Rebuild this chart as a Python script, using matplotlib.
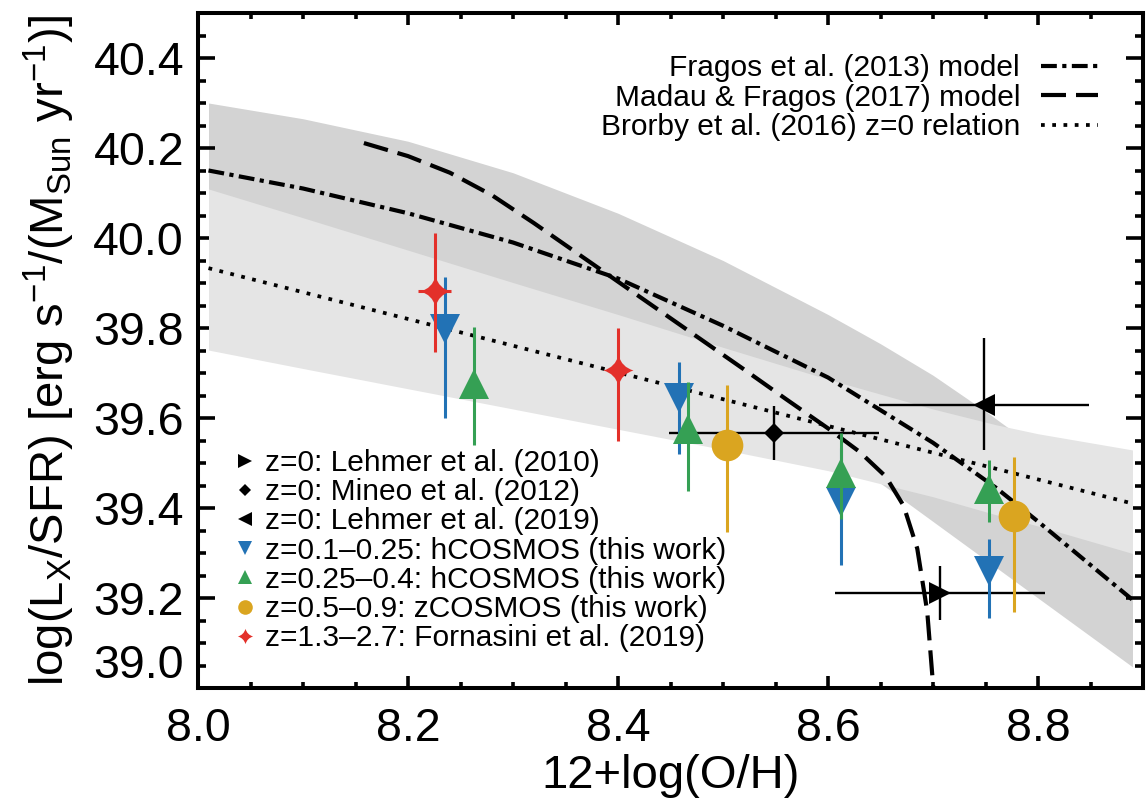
import numpy as np
import matplotlib.pyplot as plt
from matplotlib.path import Path
from matplotlib.lines import Line2D

plt.rcParams['font.family'] = ['Liberation Sans', 'DejaVu Sans']
plt.rcParams['mathtext.fontset'] = 'custom'
plt.rcParams['mathtext.rm'] = 'Liberation Sans'
plt.rcParams['mathtext.it'] = 'Liberation Sans:italic'
plt.rcParams['mathtext.bf'] = 'Liberation Sans:bold'

# ---- model curves ----
fragos_x = [8.01, 8.1, 8.2, 8.3, 8.4, 8.5, 8.6, 8.7, 8.76, 8.8, 8.89]
fragos_y = [40.15, 40.11, 40.055, 39.99, 39.91, 39.805, 39.69, 39.545, 39.445, 39.37, 39.196]

madau_x = [8.158, 8.20, 8.24, 8.28, 8.32, 8.36, 8.40, 8.44, 8.48, 8.52, 8.56, 8.60,
           8.63, 8.655, 8.672, 8.685, 8.6945, 8.702]
madau_y = [40.211, 40.182, 40.145, 40.095, 40.033, 39.968, 39.903, 39.838, 39.773, 39.708,
           39.642, 39.577, 39.525, 39.47, 39.405, 39.31, 39.17, 38.95]

brorby_x = [8.01, 8.89]
brorby_y = [39.933, 39.41]

# shaded uncertainty regions
dark_x = [8.01, 8.1, 8.2, 8.3, 8.4, 8.5, 8.6, 8.65, 8.7, 8.75, 8.8, 8.89]
dark_hi = [40.30, 40.265, 40.215, 40.145, 40.055, 39.95, 39.83, 39.765, 39.695, 39.615, 39.53, 39.36]
dark_lo = [40.00, 39.965, 39.91, 39.84, 39.75, 39.64, 39.53, 39.455, 39.37, 39.285, 39.20, 39.047]

light_x = [8.01, 8.1, 8.2, 8.3, 8.4, 8.5, 8.6, 8.7, 8.76, 8.8, 8.89]
light_hi = [40.109, 40.045, 39.973, 39.901, 39.83, 39.757, 39.686, 39.62, 39.585, 39.565, 39.529]
light_lo = [39.751, 39.71, 39.665, 39.62, 39.575, 39.53, 39.483, 39.425, 39.385, 39.36, 39.299]

# ---- measurements ----
leh10_x, leh10_xerr, leh10_y, leh10_yerr = [8.707], [0.1], [39.212], [0.06]
mineo_x, mineo_xerr, mineo_y, mineo_yerr = [8.549], [0.1], [39.567], [0.06]
leh19_x, leh19_xerr, leh19_y = [8.749], [0.1], [39.628]
leh19_ylo, leh19_yhi = [0.099], [0.149]

hc1_x = [8.235, 8.458, 8.612, 8.753]
hc1_y = [39.798, 39.644, 39.413, 39.261]
hc1_lo = [0.198, 0.123, 0.139, 0.105]
hc1_hi = [0.116, 0.081, 0.12, 0.071]

hc2_x = [8.263, 8.467, 8.612, 8.753]
hc2_y = [39.676, 39.576, 39.478, 39.442]
hc2_lo = [0.135, 0.139, 0.103, 0.072]
hc2_hi = [0.127, 0.104, 0.088, 0.065]

zc_x = [8.504, 8.777]
zc_y = [39.539, 39.383]
zc_lo = [0.192, 0.214]
zc_hi = [0.134, 0.130]

forn_x = [8.2255, 8.40]
forn_xerr = [0.0155, 0.0]
forn_y = [39.882, 39.707]
forn_lo = [0.135, 0.158]
forn_hi = [0.129, 0.094]

c_blue = '#2272b5'
c_green = '#35a054'
c_gold = '#daa520'
c_red = '#e3302a'

# four pointed star marker
k = 0.22
star = Path([(0, 1), (k, k), (1, 0), (k, -k), (0, -1), (-k, -k), (-1, 0), (-k, k), (0, 1), (0, 1)],
            [Path.MOVETO, Path.CURVE3, Path.CURVE3, Path.CURVE3, Path.CURVE3,
             Path.CURVE3, Path.CURVE3, Path.CURVE3, Path.CURVE3, Path.CLOSEPOLY])

fig = plt.figure(figsize=(11.46, 8.10), dpi=100)
ax = fig.add_axes([198 / 1146, 1 - 688 / 810, 945 / 1146, 675 / 810])

ax.fill_between(dark_x, dark_lo, dark_hi, color='#d3d3d3', lw=0, zorder=1)
ax.fill_between(light_x, light_lo, light_hi, color='#e5e5e5', lw=0, zorder=2)

l1, = ax.plot(fragos_x, fragos_y, color='k', lw=3, ls=(0, (3.8, 1.3, 1.0, 1.3)), zorder=3,
              label='Fragos et al. (2013) model')
l2, = ax.plot(madau_x, madau_y, color='k', lw=3, ls=(0, (6.0, 2.4)), zorder=3,
              label='Madau & Fragos (2017) model')
l3, = ax.plot(brorby_x, brorby_y, color='k', lw=2.7, ls=(0, (1, 2)), zorder=3,
              label='Brorby et al. (2016) z=0 relation')

# black z=0 points
ax.errorbar(leh10_x, leh10_y, xerr=leh10_xerr, yerr=leh10_yerr, fmt='none', ecolor='k', elinewidth=1.7, zorder=4)
ax.plot(leh10_x, leh10_y, ls='none', marker='>', ms=15.6, color='k', mew=0, zorder=5)
ax.errorbar(mineo_x, mineo_y, xerr=mineo_xerr, yerr=mineo_yerr, fmt='none', ecolor='k', elinewidth=1.7, zorder=4)
ax.plot(mineo_x, mineo_y, ls='none', marker='D', ms=10.2, color='k', mew=0, zorder=5)
ax.errorbar(leh19_x, leh19_y, xerr=leh19_xerr, yerr=[leh19_ylo, leh19_yhi], fmt='none', ecolor='k',
            elinewidth=1.7, zorder=4)
ax.plot(leh19_x, leh19_y, ls='none', marker='<', ms=15.6, color='k', mew=0, zorder=5)

# this work + Fornasini
ax.errorbar(hc1_x, hc1_y, yerr=[hc1_lo, hc1_hi], fmt='none', ecolor=c_blue, elinewidth=2.2, zorder=6)
ax.plot(hc1_x, hc1_y, ls='none', marker='v', ms=22.3, color=c_blue, mew=0, zorder=6.1)
ax.errorbar(hc2_x, hc2_y, yerr=[hc2_lo, hc2_hi], fmt='none', ecolor=c_green, elinewidth=2.2, zorder=7)
ax.plot(hc2_x, hc2_y, ls='none', marker='^', ms=22.3, color=c_green, mew=0, zorder=6.9)
ax.errorbar(zc_x, zc_y, yerr=[zc_lo, zc_hi], fmt='none', ecolor=c_gold, elinewidth=2.2, zorder=8)
ax.plot(zc_x, zc_y, ls='none', marker='o', ms=22.8, color=c_gold, mew=0, zorder=8.1)
ax.errorbar(forn_x, forn_y, xerr=forn_xerr, yerr=[forn_lo, forn_hi], fmt='none', ecolor=c_red,
            elinewidth=2.2, zorder=9)
ax.plot(forn_x, forn_y, ls='none', marker=star, ms=21.6, color=c_red, mew=0, zorder=9.1)

ax.set_xlim(8.0, 8.9)
ax.set_ylim(39.0, 40.5)
ax.set_xticks([8.0, 8.2, 8.4, 8.6, 8.8])
ax.set_xticks(np.arange(8.0, 8.9, 0.05), minor=True)
ax.set_yticks([39.0, 39.2, 39.4, 39.6, 39.8, 40.0, 40.2, 40.4])
ax.set_yticks(np.arange(39.0, 40.5, 0.05), minor=True)
ax.set_xticklabels(['8.0', '8.2', '8.4', '8.6', '8.8'])
ax.set_yticklabels(['39.0', '39.2', '39.4', '39.6', '39.8', '40.0', '40.2', '40.4'])
ax.get_yticklabels()[0].set_va('bottom')

for s in ax.spines.values():
    s.set_linewidth(2.9)
ax.tick_params(which='both', direction='in', top=True, right=True, width=2.6, labelsize=33.5)
ax.tick_params(axis='x', which='major', length=8.6, pad=14)
ax.tick_params(axis='x', which='minor', length=4.3)
ax.tick_params(axis='y', which='major', length=12.2, pad=10)
ax.tick_params(axis='y', which='minor', length=6.1)

ax.set_xlabel('12+log(O/H)', fontsize=34, labelpad=2)
ax.set_ylabel(r'log(L$_{\rm X}$/SFR) [erg s$^{-1}$/(M$_{\rm Sun}$ yr$^{-1}$)]', fontsize=34, labelpad=12)

leg1 = ax.legend(handles=[l1, l2, l3], loc='upper right', bbox_to_anchor=(0.952, 0.939),
                 markerfirst=False, frameon=False, fontsize=21.5, handlelength=1.9,
                 handletextpad=0.7, labelspacing=0.05, borderpad=0, borderaxespad=0)
ax.add_artist(leg1)

proxies = [
    Line2D([], [], ls='none', marker='>', ms=10, color='k', mew=0),
    Line2D([], [], ls='none', marker='D', ms=6.5, color='k', mew=0),
    Line2D([], [], ls='none', marker='<', ms=10, color='k', mew=0),
    Line2D([], [], ls='none', marker='v', ms=10, color=c_blue, mew=0),
    Line2D([], [], ls='none', marker='^', ms=10, color=c_green, mew=0),
    Line2D([], [], ls='none', marker='o', ms=10.5, color=c_gold, mew=0),
    Line2D([], [], ls='none', marker=star, ms=11, color=c_red, mew=0),
]
labels = ['z=0: Lehmer et al. (2010)',
          'z=0: Mineo et al. (2012)',
          'z=0: Lehmer et al. (2019)',
          'z=0.1\u20130.25: hCOSMOS (this work)',
          'z=0.25\u20130.4: hCOSMOS (this work)',
          'z=0.5\u20130.9: zCOSMOS (this work)',
          'z=1.3\u20132.7: Fornasini et al. (2019)']
ax.legend(proxies, labels, loc='lower left', bbox_to_anchor=(0.042, 0.053), frameon=False,
          fontsize=21.5, handlelength=0.5, handletextpad=0.4, labelspacing=0.04,
          borderpad=0, borderaxespad=0)

fig.savefig('out.png', dpi=100)
